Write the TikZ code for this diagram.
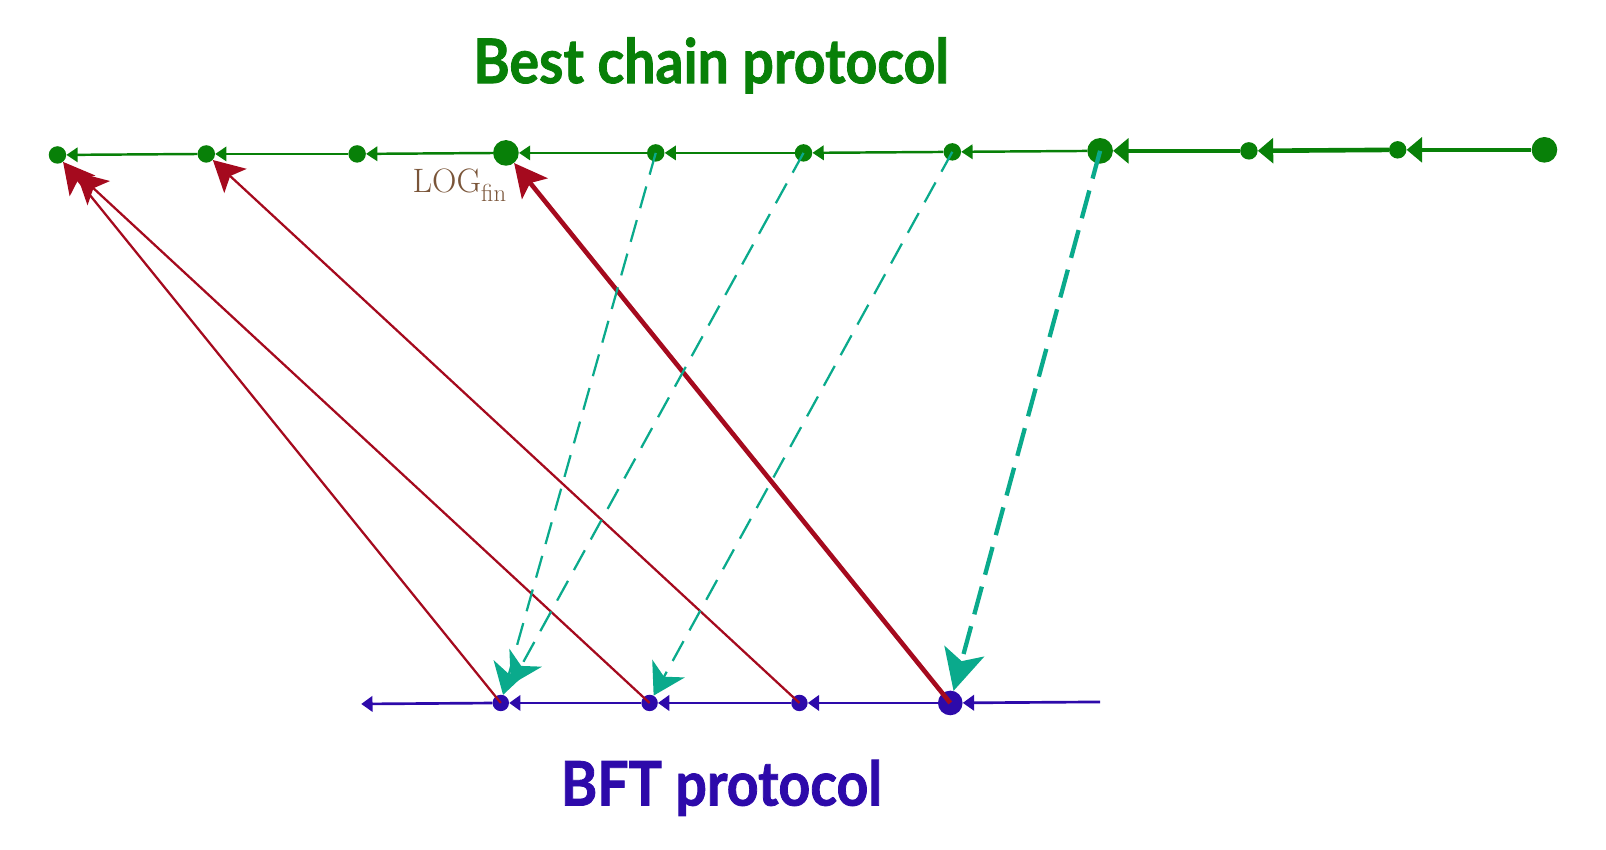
\documentclass[tikz,border=0pt]{standalone}
\usepackage{fontspec}
\newfontfamily\titlefont{Lato}[FakeStretch=0.9,FakeBold=1.3]
\usetikzlibrary{arrows.meta}
\definecolor{cgreen}{RGB}{8,128,8}
\definecolor{cblue}{RGB}{45,10,170}
\definecolor{cred}{RGB}{165,10,30}
\definecolor{cteal}{RGB}{10,170,140}
\definecolor{cbrown}{RGB}{122,85,57}
\tikzset{
  gdot/.style={circle,fill=cgreen,inner sep=0pt,minimum size=17pt},
  gbig/.style={circle,fill=cgreen,inner sep=0pt,minimum size=25pt},
  bdot/.style={circle,fill=cblue,inner sep=0pt,minimum size=16pt},
  bbig/.style={circle,fill=cblue,inner sep=0pt,minimum size=24pt},
  garrow/.style={draw=cgreen,line width=2.4pt,-{Triangle[length=11pt,width=14pt]}},
  garrowthick/.style={draw=cgreen,line width=4.5pt,-{Triangle[length=15pt,width=24pt]}},
  barrow/.style={draw=cblue,line width=2.6pt,-{Triangle[length=11pt,width=15pt]}},
  rarrow/.style={draw=cred,line width=2.2pt,-{Stealth[length=30pt,width=32pt,inset=7pt]}},
  rarrowthick/.style={draw=cred,line width=4.5pt,-{Stealth[length=32pt,width=32pt,inset=7pt]}},
  tarrow/.style={draw=cteal,line width=2.2pt,dash pattern=on 22pt off 12pt,-{Stealth[length=30pt,width=36pt,inset=9pt]}},
  tarrowthick/.style={draw=cteal,line width=4.2pt,dash pattern=on 28pt off 12pt,-{Stealth[length=40pt,width=40pt,inset=10pt]}},
  title/.style={font=\titlefont\bfseries\fontsize{60}{72}\selectfont,anchor=base,inner sep=0pt},
}
\begin{document}
\begin{tikzpicture}[x=1pt,y=-1pt]
\useasboundingbox (0,0) rectangle (1565,828);
% titles
\node[title,text=cgreen] (ttop) at (693,81) {Best chain protocol};
\node[title,text=cblue] (tbot) at (703,785) {BFT protocol};
% top chain
\node[gdot] (t1) at (56,151) {};
\node[gdot] (t2) at (201,150) {};
\node[gdot] (t3) at (348,150) {};
\node[gbig] (t4) at (493,149) {};
\node[gdot] (t5) at (639,149) {};
\node[gdot] (t6) at (783,149) {};
\node[gdot] (t7) at (928,148) {};
\node[gbig] (t8) at (1072,147) {};
\node[gdot] (t9) at (1217,147) {};
\node[gdot] (t10) at (1362,146) {};
\node[gbig] (t11) at (1505,146) {};
\draw[garrow] (t2) -- (t1);
\draw[garrow] (t3) -- (t2);
\draw[garrow] (t4) -- (t3);
\draw[garrow] (t5) -- (t4);
\draw[garrow] (t6) -- (t5);
\draw[garrow] (t7) -- (t6);
\draw[garrow] (t8) -- (t7);
\draw[garrowthick] (t9) -- (t8);
\draw[garrowthick] (t10) -- (t9);
\draw[garrowthick] (t11) -- (t10);
% label
\node[anchor=base west,text=cbrown,inner sep=0pt,font=\fontsize{33}{38}\selectfont] (log) at (402,188) {LOG\raisebox{-8pt}{\fontsize{24}{28}\selectfont fin}};
% bottom chain
\coordinate (bl) at (352,686);
\coordinate (br) at (1072,684);
\node[bdot] (b1) at (488,685) {};
\node[bdot] (b2) at (633,685) {};
\node[bdot] (b3) at (779,685) {};
\node[bbig] (b4) at (926,685) {};
\draw[barrow] (br) -- (b4);
\draw[barrow] (b4) -- (b3);
\draw[barrow] (b3) -- (b2);
\draw[barrow] (b2) -- (b1);
\draw[barrow] (b1) -- (bl);
% red arrows
\draw[rarrow] (b1.center) -- (t1);
\draw[rarrow,shorten >=16pt] (b2.center) -- (t1);
\draw[rarrow] (b3.center) -- (t2);
\draw[rarrowthick] (b4.center) -- (t4);
% teal arrows
\draw[tarrow] (t5.center) -- (b1);
\draw[tarrow,shorten >=12pt] (t6.center) -- (b1);
\draw[tarrow] (t7.center) -- (b2);
\draw[tarrowthick] (t8.center) -- (b4);
\end{tikzpicture}
\end{document}
